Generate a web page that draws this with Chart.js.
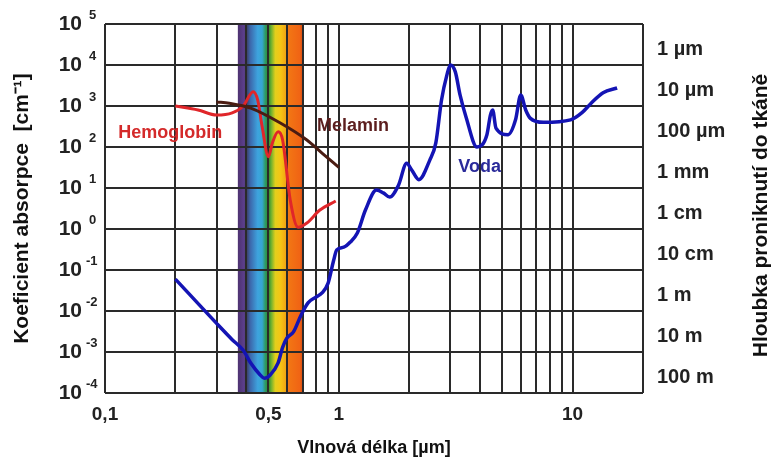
<!DOCTYPE html>
<html lang="cs">
<head>
<meta charset="utf-8">
<title>Koeficient absorpce</title>
<script src="https://cdn.jsdelivr.net/npm/chart.js@4.4.1/dist/chart.umd.min.js"></script>
<style>
  html, body { margin: 0; padding: 0; background: #fff; }
  canvas { display: block; }
</style>
</head>
<body>
<canvas id="absChart" width="772" height="463"></canvas>
<script>
// Vlnové délky [µm] a koeficienty absorpce [cm-1]
const waterWl = [0.2, 0.3, 0.35, 0.39, 0.42, 0.46, 0.48, 0.51, 0.55, 0.575, 0.6, 0.64, 0.69, 0.74, 0.8, 0.85, 0.9, 0.95, 0.98,
  1.05, 1.12, 1.2, 1.3, 1.45, 1.55, 1.65, 1.8, 1.95, 2.05, 2.2, 2.45, 2.6, 2.75, 2.9, 3.0, 3.15, 3.3, 3.5, 3.9,
  4.3, 4.45, 4.55, 4.7, 5.3, 5.7, 6.0, 6.3, 6.6, 7.5, 9.8, 11, 12, 13.5, 15.5];
const waterAbs = [0.06, 0.005, 0.002, 0.0011, 0.00054, 0.00028, 0.00023, 0.00028, 0.00054, 0.0013, 0.0022, 0.0031, 0.008, 0.016, 0.022, 0.028, 0.048, 0.17, 0.31,
  0.36, 0.48, 0.8, 2.9, 8.9, 7.6, 6, 11.7, 40, 27.5, 16, 48, 126, 1400, 5750, 10000, 6800, 1860, 540, 100,
  200, 600, 800, 290, 200, 460, 1860, 800, 500, 400, 460, 700, 1170, 2100, 2750];

const hemoWl = [0.2, 0.25, 0.3, 0.35, 0.39, 0.43, 0.45, 0.47, 0.5, 0.52, 0.55, 0.575, 0.62, 0.67, 0.73, 0.83, 0.97];
const hemoAbs = [1000, 800, 600, 680, 1000, 2240, 1400, 316, 58, 126, 234, 148, 5, 1.1, 1.4, 2.9, 4.8];

const melWl = [0.3, 0.34, 0.42, 0.56, 0.73, 0.85, 1.0];
const melAbs = [1260, 1170, 890, 390, 148, 70, 32];

// Osy a popisky
const xGrid = [0.1, 0.2, 0.3, 0.4, 0.5, 0.6, 0.7, 0.8, 0.9, 1, 2, 3, 4, 5, 6, 7, 8, 9, 10, 20];
const xLabelValues = [0.1, 0.5, 1, 10];
const xLabelTexts = ['0,1', '0,5', '1', '10'];
const yGrid = [1e-4, 1e-3, 1e-2, 1e-1, 1, 10, 100, 1e3, 1e4, 1e5];
const yExponents = ['-4', '-3', '-2', '-1', '0', '1', '2', '3', '4', '5'];
const depthValues = [1e-4, 1e-3, 1e-2, 1e-1, 1, 10, 100, 1e3, 1e4];
const depthLabels = ['100 m', '10 m', '1 m', '10 cm', '1 cm', '1 mm', '100 µm', '10 µm', '1 µm'];

// Viditelné spektrum (vlnová délka -> barva)
const spectrumWl = [0.370, 0.394, 0.402, 0.418, 0.45, 0.47, 0.485, 0.50, 0.515, 0.535, 0.565, 0.595, 0.61, 0.68, 0.702];
const spectrumColors = ['#4d3270', '#5c3f8c', '#3c3a5e', '#3c67ab', '#3ea3de', '#35a6d2', '#2f9a62', '#2a8c2e', '#74b22e',
  '#e3cf1c', '#f6c414', '#f1a414', '#f27614', '#f06414', '#d84a12'];

// Popisky křivek
const seriesNames = ['Hemoglobin', 'Melamin', 'Voda'];
const nameAtWl = [0.19, 1.15, 4.0];
const nameAtAbs = [220, 325, 32];
const nameColors = ['#d42a2a', '#5c1e1e', '#2a2a9a'];

const FONT = '"Liberation Sans", Arial, sans-serif';

function toPoints(xs, ys) {
    return xs.map((x, i) => ({ x: x, y: ys[i] }));
}

// svislé osy: popisky nesmí posouvat horní okraj grafu
function fixVertical(width) {
    return (scale) => {
        scale.width = width;
        scale.paddingTop = 0;
        scale.paddingBottom = 0;
    };
}

// Barevný pruh spektra pod mřížkou
const spectrumPlugin = {
    id: 'spectrum',
    beforeDraw(chart) {
        const ctx = chart.ctx;
        const area = chart.chartArea;
        const xs = chart.scales.x;
        const x0 = xs.getPixelForValue(spectrumWl[0]);
        const x1 = xs.getPixelForValue(spectrumWl[spectrumWl.length - 1]);
        const grad = ctx.createLinearGradient(x0, 0, x1, 0);
        spectrumWl.forEach((wl, i) => {
            const p = (xs.getPixelForValue(wl) - x0) / (x1 - x0);
            grad.addColorStop(Math.min(1, Math.max(0, p)), spectrumColors[i]);
        });
        ctx.save();
        ctx.fillStyle = grad;
        ctx.fillRect(x0, area.top, x1 - x0, area.bottom - area.top);
        ctx.restore();
    }
};

// Exponenty u "10", názvy křivek a pravý nadpis osy
const textPlugin = {
    id: 'texts',
    afterDraw(chart) {
        const ctx = chart.ctx;
        const ys = chart.scales.y;
        const xs = chart.scales.x;
        ctx.save();
        ctx.fillStyle = '#222';
        ctx.font = 'bold 13px ' + FONT;
        ctx.textAlign = 'left';
        ctx.textBaseline = 'middle';
        yGrid.forEach((v, i) => {
            const py = ys.getPixelForValue(v);
            ctx.fillText(yExponents[i], yExponents[i].length > 1 ? 86 : 89, py - 9);
        });

        ctx.font = 'bold 18px ' + FONT;
        ctx.textAlign = 'center';
        seriesNames.forEach((name, i) => {
            ctx.fillStyle = nameColors[i];
            ctx.fillText(name, xs.getPixelForValue(nameAtWl[i]), ys.getPixelForValue(nameAtAbs[i]));
        });

        // pravý nadpis čte se zdola nahoru
        const area = chart.chartArea;
        ctx.fillStyle = '#111';
        ctx.font = 'bold 21px ' + FONT;
        ctx.translate(761, (area.top + area.bottom) / 2 + 7);
        ctx.rotate(-Math.PI / 2);
        ctx.fillText('Hloubka proniknutí do tkáně', 0, 0);
        ctx.restore();
    }
};

const ctx = document.getElementById('absChart').getContext('2d');

const absChart = new Chart(ctx, {
    type: 'line',
    data: {
        datasets: [
            {
                label: 'Melamin',
                data: toPoints(melWl, melAbs),
                borderColor: '#4a1c12',
                borderWidth: 3,
                pointRadius: 0,
                cubicInterpolationMode: 'monotone'
            },
            {
                label: 'Hemoglobin',
                data: toPoints(hemoWl, hemoAbs),
                borderColor: '#e0262a',
                borderWidth: 3,
                pointRadius: 0,
                cubicInterpolationMode: 'monotone'
            },
            {
                label: 'Voda',
                data: toPoints(waterWl, waterAbs),
                borderColor: '#1414b4',
                borderWidth: 3.5,
                pointRadius: 0,
                cubicInterpolationMode: 'monotone'
            }
        ]
    },
    options: {
        responsive: false,
        animation: false,
        layout: { padding: { top: 24, left: 0, right: 0, bottom: 0 } },
        plugins: {
            legend: { display: false },
            tooltip: { enabled: false }
        },
        scales: {
            x: {
                type: 'logarithmic',
                min: 0.1,
                max: 20,
                afterBuildTicks: (scale) => { scale.ticks = xGrid.map(v => ({ value: v })); },
                afterFit: (scale) => { scale.height = 70; },
                grid: { color: '#2a2a2a', lineWidth: 2, drawTicks: false },
                border: { display: false },
                ticks: {
                    autoSkip: false,
                    maxRotation: 0,
                    padding: 10,
                    color: '#222',
                    font: { family: FONT, size: 19, weight: 'bold' },
                    callback: (value) => {
                        const i = xLabelValues.findIndex(v => Math.abs(v - value) < 1e-9);
                        return i >= 0 ? xLabelTexts[i] : '';
                    }
                },
                title: {
                    display: true,
                    text: 'Vlnová délka [µm]',
                    color: '#111',
                    font: { family: FONT, size: 18, weight: 'bold' },
                    padding: { top: 0, bottom: 4 }
                }
            },
            y: {
                type: 'logarithmic',
                position: 'left',
                min: 1e-4,
                max: 1e5,
                afterBuildTicks: (scale) => { scale.ticks = yGrid.map(v => ({ value: v })); },
                afterFit: fixVertical(105),
                grid: { color: '#2a2a2a', lineWidth: 2, drawTicks: false },
                border: { display: false },
                ticks: {
                    autoSkip: false,
                    padding: 23,
                    color: '#222',
                    font: { family: FONT, size: 21, weight: 'bold' },
                    callback: () => '10'
                },
                title: {
                    display: true,
                    text: 'Koeficient absorpce  [cm⁻¹]',
                    color: '#111',
                    font: { family: FONT, size: 21, weight: 'bold' },
                    padding: { top: 10, bottom: 0 }
                }
            },
            depth: {
                type: 'logarithmic',
                position: 'right',
                min: 1e-4,
                max: 1e5,
                afterBuildTicks: (scale) => { scale.ticks = depthValues.map(v => ({ value: v })); },
                afterFit: fixVertical(129),
                grid: { display: false, drawTicks: false },
                border: { display: false },
                ticks: {
                    autoSkip: false,
                    padding: 14,
                    labelOffset: -16,
                    color: '#222',
                    font: { family: FONT, size: 20, weight: 'bold' },
                    callback: (value, index) => depthLabels[index]
                }
            }
        }
    },
    plugins: [spectrumPlugin, textPlugin]
});
</script>
</body>
</html>
